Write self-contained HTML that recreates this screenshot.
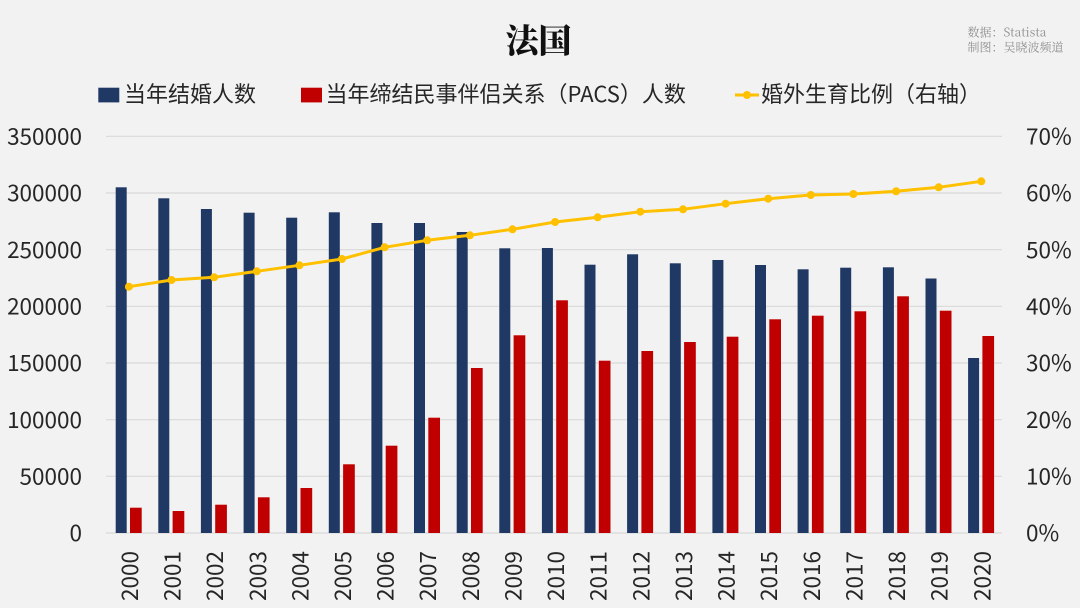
<!DOCTYPE html>
<html>
<head>
<meta charset="utf-8">
<style>
  html,body{margin:0;padding:0;background:#f2f2f2;}
  svg{display:block;}
  .tk{font-family:"Noto Sans CJK SC","Liberation Sans",sans-serif;font-size:22.5px;fill:#262626;}
  .lg{font-family:"Noto Sans CJK SC","Liberation Sans",sans-serif;font-size:22px;fill:#262626;}
  .src{font-family:"Noto Serif CJK SC","Liberation Serif",serif;font-size:12px;fill:#8f8f8f;}
  .ttl{font-family:"Noto Serif CJK SC","Liberation Serif",serif;font-size:33px;font-weight:900;fill:#111;}
</style>
</head>
<body>
<svg width="1080" height="608" viewBox="0 0 1080 608" xmlns="http://www.w3.org/2000/svg">
  <rect x="0" y="0" width="1080" height="608" fill="#f2f2f2"/>

  <!-- Title -->
  <text class="ttl" x="538.5" y="52.5" text-anchor="middle">法国</text>

  <!-- Source -->
  <text class="src" x="967.5" y="36.3">数据：Statista</text>
  <text class="src" x="967.5" y="51.6">制图：吴晓波频道</text>

  <!-- Legend -->
  <rect x="98.3" y="87.7" width="21" height="14.7" fill="#203864"/>
  <text class="lg" x="124" y="102.2">当年结婚人数</text>
  <rect x="301" y="87.7" width="21" height="14.7" fill="#c00000"/>
  <text class="lg" x="325.5" y="102.2">当年缔结民事伴侣关系（PACS）人数</text>
  <line x1="735" y1="95" x2="759" y2="95" stroke="#ffc000" stroke-width="3"/>
  <circle cx="747" cy="95" r="4" fill="#ffc000"/>
  <text class="lg" x="761" y="102.2">婚外生育比例（右轴）</text>

  <!-- Grid -->
  <g stroke="#d9d9d9" stroke-width="1.2">
    <line x1="106" y1="136.3" x2="1002" y2="136.3"/>
    <line x1="106" y1="193" x2="1002" y2="193"/>
    <line x1="106" y1="249.7" x2="1002" y2="249.7"/>
    <line x1="106" y1="306.3" x2="1002" y2="306.3"/>
    <line x1="106" y1="363" x2="1002" y2="363"/>
    <line x1="106" y1="419.7" x2="1002" y2="419.7"/>
    <line x1="106" y1="476.3" x2="1002" y2="476.3"/>
    <line x1="106" y1="533" x2="1002" y2="533"/>
  </g>

  <!-- Left axis labels -->
  <g class="tk" text-anchor="end">
    <text x="82" y="144.5">350000</text>
    <text x="82" y="201.2">300000</text>
    <text x="82" y="257.9">250000</text>
    <text x="82" y="314.5">200000</text>
    <text x="82" y="371.2">150000</text>
    <text x="82" y="427.9">100000</text>
    <text x="82" y="484.5">50000</text>
    <text x="82" y="541.2">0</text>
  </g>

  <!-- Right axis labels -->
  <g class="tk">
    <text x="1026" y="144.5">70%</text>
    <text x="1026" y="201.2">60%</text>
    <text x="1026" y="257.9">50%</text>
    <text x="1026" y="314.5">40%</text>
    <text x="1026" y="371.2">30%</text>
    <text x="1026" y="427.9">20%</text>
    <text x="1026" y="484.5">10%</text>
    <text x="1026" y="541.2">0%</text>
  </g>

  <!-- Navy bars -->
  <g fill="#203864">
    <rect x="115.7" y="187.3" width="11" height="345.7"/>
    <rect x="158.3" y="198.3" width="11" height="334.7"/>
    <rect x="200.9" y="209" width="11" height="324"/>
    <rect x="243.6" y="212.7" width="11" height="320.3"/>
    <rect x="286.2" y="217.7" width="11" height="315.3"/>
    <rect x="328.8" y="212.3" width="11" height="320.7"/>
    <rect x="371.4" y="223" width="11" height="310"/>
    <rect x="414.0" y="223" width="11" height="310"/>
    <rect x="456.7" y="232" width="11" height="301"/>
    <rect x="499.3" y="248.3" width="11" height="284.7"/>
    <rect x="541.9" y="248" width="11" height="285"/>
    <rect x="584.5" y="264.7" width="11" height="268.3"/>
    <rect x="627.1" y="254.3" width="11" height="278.7"/>
    <rect x="669.8" y="263.3" width="11" height="269.7"/>
    <rect x="712.4" y="260" width="11" height="273"/>
    <rect x="755.0" y="265" width="11" height="268"/>
    <rect x="797.6" y="269.3" width="11" height="263.7"/>
    <rect x="840.2" y="267.7" width="11" height="265.3"/>
    <rect x="882.9" y="267.3" width="11" height="265.7"/>
    <rect x="925.5" y="278.5" width="11" height="254.5"/>
    <rect x="968.1" y="358" width="11" height="175"/>
  </g>

  <!-- Red bars -->
  <g fill="#c00000">
    <rect x="130.0" y="507.7" width="11.7" height="25.3"/>
    <rect x="172.6" y="511" width="11.7" height="22"/>
    <rect x="215.2" y="504.7" width="11.7" height="28.3"/>
    <rect x="257.9" y="497.3" width="11.7" height="35.7"/>
    <rect x="300.5" y="488" width="11.7" height="45"/>
    <rect x="343.1" y="464.3" width="11.7" height="68.7"/>
    <rect x="385.7" y="445.7" width="11.7" height="87.3"/>
    <rect x="428.3" y="417.7" width="11.7" height="115.3"/>
    <rect x="471.0" y="368" width="11.7" height="165"/>
    <rect x="513.6" y="335.3" width="11.7" height="197.7"/>
    <rect x="556.2" y="300.3" width="11.7" height="232.7"/>
    <rect x="598.8" y="360.7" width="11.7" height="172.3"/>
    <rect x="641.4" y="351" width="11.7" height="182"/>
    <rect x="684.1" y="342" width="11.7" height="191"/>
    <rect x="726.7" y="336.7" width="11.7" height="196.3"/>
    <rect x="769.3" y="319.3" width="11.7" height="213.7"/>
    <rect x="811.9" y="315.7" width="11.7" height="217.3"/>
    <rect x="854.5" y="311.3" width="11.7" height="221.7"/>
    <rect x="897.2" y="296.3" width="11.7" height="236.7"/>
    <rect x="939.8" y="310.7" width="11.7" height="222.3"/>
    <rect x="982.4" y="336" width="11.7" height="197"/>
  </g>

  <!-- Line series -->
  <polyline fill="none" stroke="#ffc000" stroke-width="3" stroke-linejoin="round"
    points="128.9,286.7 171.5,280 214.1,277.3 256.8,271.3 299.4,265.3 342.0,259 384.6,247.3 427.2,240.3 469.9,235.3 512.5,229.3 555.1,222 597.7,217.3 640.3,211.7 683.0,209.3 725.6,203.7 768.2,198.7 810.8,195 853.4,194 896.1,191.3 938.7,187.3 981.3,181.3"/>
  <g fill="#ffc000">
    <circle cx="128.9" cy="286.7" r="4"/>
    <circle cx="171.5" cy="280" r="4"/>
    <circle cx="214.1" cy="277.3" r="4"/>
    <circle cx="256.8" cy="271.3" r="4"/>
    <circle cx="299.4" cy="265.3" r="4"/>
    <circle cx="342.0" cy="259" r="4"/>
    <circle cx="384.6" cy="247.3" r="4"/>
    <circle cx="427.2" cy="240.3" r="4"/>
    <circle cx="469.9" cy="235.3" r="4"/>
    <circle cx="512.5" cy="229.3" r="4"/>
    <circle cx="555.1" cy="222" r="4"/>
    <circle cx="597.7" cy="217.3" r="4"/>
    <circle cx="640.3" cy="211.7" r="4"/>
    <circle cx="683.0" cy="209.3" r="4"/>
    <circle cx="725.6" cy="203.7" r="4"/>
    <circle cx="768.2" cy="198.7" r="4"/>
    <circle cx="810.8" cy="195" r="4"/>
    <circle cx="853.4" cy="194" r="4"/>
    <circle cx="896.1" cy="191.3" r="4"/>
    <circle cx="938.7" cy="187.3" r="4"/>
    <circle cx="981.3" cy="181.3" r="4"/>
  </g>

  <!-- X axis year labels (rotated) -->
  <g class="tk" text-anchor="end">
    <text transform="translate(137.9,551) rotate(-90)">2000</text>
    <text transform="translate(180.5,551) rotate(-90)">2001</text>
    <text transform="translate(223.1,551) rotate(-90)">2002</text>
    <text transform="translate(265.8,551) rotate(-90)">2003</text>
    <text transform="translate(308.4,551) rotate(-90)">2004</text>
    <text transform="translate(351.0,551) rotate(-90)">2005</text>
    <text transform="translate(393.6,551) rotate(-90)">2006</text>
    <text transform="translate(436.2,551) rotate(-90)">2007</text>
    <text transform="translate(478.9,551) rotate(-90)">2008</text>
    <text transform="translate(521.5,551) rotate(-90)">2009</text>
    <text transform="translate(564.1,551) rotate(-90)">2010</text>
    <text transform="translate(606.7,551) rotate(-90)">2011</text>
    <text transform="translate(649.3,551) rotate(-90)">2012</text>
    <text transform="translate(692.0,551) rotate(-90)">2013</text>
    <text transform="translate(734.6,551) rotate(-90)">2014</text>
    <text transform="translate(777.2,551) rotate(-90)">2015</text>
    <text transform="translate(819.8,551) rotate(-90)">2016</text>
    <text transform="translate(862.4,551) rotate(-90)">2017</text>
    <text transform="translate(905.1,551) rotate(-90)">2018</text>
    <text transform="translate(947.7,551) rotate(-90)">2019</text>
    <text transform="translate(990.3,551) rotate(-90)">2020</text>
  </g>
</svg>
</body>
</html>
